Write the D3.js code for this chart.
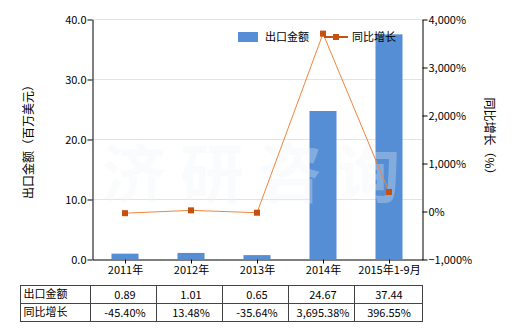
<!DOCTYPE html>
<html>
<head>
<meta charset="utf-8">
<script src="https://cdn.jsdelivr.net/npm/d3@7"></script>
<style>
  body { margin: 0; background: #fff; }
  svg { font-family: "Noto Sans CJK SC", "Noto Sans", sans-serif; }
</style>
</head>
<body>
<div id="graph"></div>
<script>
const categories = ['2011年', '2012年', '2013年', '2014年', '2015年1-9月'];
const exportValues = [0.89, 1.01, 0.65, 24.67, 37.44];
const growthValues = [-45.40, 13.48, -35.64, 3695.38, 396.55];
const exportLabels = ['0.89', '1.01', '0.65', '24.67', '37.44'];
const growthLabels = ['-45.40%', '13.48%', '-35.64%', '3,695.38%', '396.55%'];
const leftTicks = [0, 10, 20, 30, 40];
const rightTicks = [-1000, 0, 1000, 2000, 3000, 4000];

const barColor = '#558ed5';
const lineColor = '#f0853a';
const markerColor = '#c5500f';

const dimensions = {
  width: 520,
  height: 330,
  margin: { top: 19, right: 98, bottom: 71, left: 92 },
}
dimensions.boundedWidth = dimensions.width - dimensions.margin.left - dimensions.margin.right;
dimensions.boundedHeight = dimensions.height - dimensions.margin.top - dimensions.margin.bottom;

function drawChart() {
  const svg = d3.select('#graph')
    .append('svg')
    .attr('width', dimensions.width)
    .attr('height', dimensions.height);

  const left = dimensions.margin.left;
  const right = left + dimensions.boundedWidth;
  const top = dimensions.margin.top;
  const bottom = top + dimensions.boundedHeight;

  const xScaler = d3.scaleBand()
    .domain(categories)
    .range([left, right]);

  const yScaler = d3.scaleLinear()
    .domain([0, 40])
    .range([bottom, top]);

  const y2Scaler = d3.scaleLinear()
    .domain([-1000, 4000])
    .range([bottom, top]);

  // grid
  svg.append('g')
    .selectAll('line')
    .data(leftTicks.slice(1))
    .enter()
    .append('line')
    .attr('x1', left)
    .attr('x2', right)
    .attr('y1', d => yScaler(d) + 0.5)
    .attr('y2', d => yScaler(d) + 0.5)
    .attr('stroke', '#e3e3e3');

  // bars
  const barWidth = 27;
  svg.append('g')
    .selectAll('rect')
    .data(exportValues)
    .enter()
    .append('rect')
    .attr('x', (d, i) => xScaler(categories[i]) + xScaler.bandwidth() / 2 - barWidth / 2)
    .attr('y', d => yScaler(d))
    .attr('width', barWidth)
    .attr('height', d => bottom - yScaler(d))
    .attr('fill', barColor);

  // watermark
  svg.append('text')
    .attr('x', 258)
    .attr('y', 197)
    .attr('text-anchor', 'middle')
    .attr('font-size', 64)
    .attr('font-weight', 'bold')
    .attr('letter-spacing', 14)
    .attr('fill', '#f0f2f4')
    .attr('fill-opacity', 0.3)
    .text('济研咨询');

  // line
  const line = d3.line()
    .x((d, i) => xScaler(categories[i]) + xScaler.bandwidth() / 2)
    .y(d => y2Scaler(d));

  svg.append('path')
    .datum(growthValues)
    .attr('d', line)
    .attr('fill', 'none')
    .attr('stroke', lineColor)
    .attr('stroke-width', 1);

  svg.append('g')
    .selectAll('rect')
    .data(growthValues)
    .enter()
    .append('rect')
    .attr('x', (d, i) => xScaler(categories[i]) + xScaler.bandwidth() / 2 - 3)
    .attr('y', d => y2Scaler(d) - 3)
    .attr('width', 6)
    .attr('height', 6)
    .attr('fill', markerColor);

  // axes
  const leftAxis = d3.axisLeft(yScaler)
    .tickValues(leftTicks)
    .tickFormat(d3.format('.1f'))
    .tickSize(5)
    .tickSizeOuter(0);
  const gLeft = svg.append('g')
    .attr('transform', `translate(${left + 0.5},0.5)`)
    .call(leftAxis);

  const rightAxis = d3.axisRight(y2Scaler)
    .tickValues(rightTicks)
    .tickFormat(d => d3.format(',')(d) + '%')
    .tickSize(5)
    .tickSizeOuter(0);
  const gRight = svg.append('g')
    .attr('transform', `translate(${right + 0.5},0.5)`)
    .call(rightAxis);

  const bottomAxis = d3.axisBottom(xScaler)
    .tickSize(4)
    .tickSizeOuter(0);
  const gBottom = svg.append('g')
    .attr('transform', `translate(0.5,${bottom + 0.5})`)
    .call(bottomAxis);

  [gLeft, gRight, gBottom].forEach(g => {
    g.select('.domain').attr('stroke', '#000');
    g.selectAll('.tick line').attr('stroke', '#000');
    g.selectAll('.tick text')
      .attr('font-size', 11)
      .attr('fill', '#000')
      .attr('font-family', '"Noto Sans CJK SC", sans-serif');
  });
  gLeft.selectAll('.tick text').attr('x', -6);
  gRight.selectAll('.tick text').attr('x', 6);
  gBottom.selectAll('.tick text').attr('y', 7);

  // axis titles
  svg.append('text')
    .attr('transform', `translate(33,${(top + bottom) / 2}) rotate(-90)`)
    .attr('text-anchor', 'middle')
    .attr('font-size', 12)
    .text('出口金额（百万美元）');

  svg.append('text')
    .attr('transform', `translate(485,${(top + bottom) / 2}) rotate(90)`)
    .attr('text-anchor', 'middle')
    .attr('font-size', 12)
    .text('同比增长（%）');

  // legend
  const legend = svg.append('g');
  legend.append('rect')
    .attr('x', 238)
    .attr('y', 32)
    .attr('width', 20)
    .attr('height', 10)
    .attr('fill', barColor);
  legend.append('text')
    .attr('x', 265)
    .attr('y', 41)
    .attr('font-size', 11)
    .text('出口金额');
  legend.append('line')
    .attr('x1', 324)
    .attr('x2', 348)
    .attr('y1', 37)
    .attr('y2', 37)
    .attr('stroke', markerColor)
    .attr('stroke-width', 2);
  legend.append('rect')
    .attr('x', 333)
    .attr('y', 34)
    .attr('width', 6)
    .attr('height', 6)
    .attr('fill', markerColor);
  legend.append('text')
    .attr('x', 352)
    .attr('y', 41)
    .attr('font-size', 11)
    .text('同比增长');

  // data table
  const tableTop = 285.5;
  const rowH = 18;
  const tableLeft = 20.5;
  const table = svg.append('g');
  const rows = [
    { name: '出口金额', labels: exportLabels },
    { name: '同比增长', labels: growthLabels },
  ];

  table.append('rect')
    .attr('x', tableLeft)
    .attr('y', tableTop)
    .attr('width', right - tableLeft + 0.5)
    .attr('height', rowH * 2)
    .attr('fill', 'none')
    .attr('stroke', '#444');
  table.append('line')
    .attr('x1', tableLeft)
    .attr('x2', right + 0.5)
    .attr('y1', tableTop + rowH)
    .attr('y2', tableTop + rowH)
    .attr('stroke', '#444');
  table.selectAll('.col')
    .data(categories)
    .enter()
    .append('line')
    .attr('x1', d => Math.round(xScaler(d)) - 1.5)
    .attr('x2', d => Math.round(xScaler(d)) - 1.5)
    .attr('y1', tableTop)
    .attr('y2', tableTop + rowH * 2)
    .attr('stroke', '#444');

  rows.forEach((row, r) => {
    const y = tableTop + rowH * r + 13;
    table.append('text')
      .attr('x', tableLeft + 3)
      .attr('y', y - 1)
      .attr('font-size', 11)
      .text(row.name);
    table.selectAll(null)
      .data(row.labels)
      .enter()
      .append('text')
      .attr('x', (d, i) => xScaler(categories[i]) + xScaler.bandwidth() / 2)
      .attr('y', y)
      .attr('text-anchor', 'middle')
      .attr('font-size', 11)
      .text(d => d);
  });
}

drawChart()
</script>
</body>
</html>
